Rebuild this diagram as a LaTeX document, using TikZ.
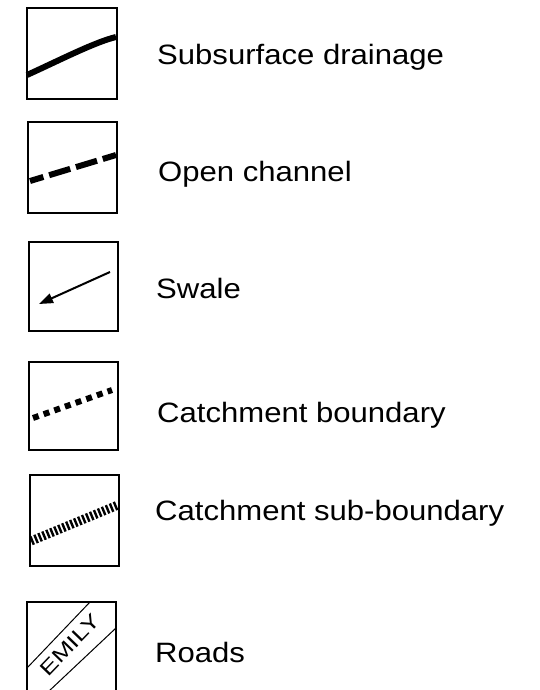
\documentclass[tikz,border=0pt]{standalone}
\usepackage{fontspec}
\setmainfont{Liberation Sans}
\usetikzlibrary{arrows.meta}
\begin{document}
\begin{tikzpicture}[x=1pt,y=-1pt,
  legbox/.style={line width=1.2pt},
  lab/.style={anchor=base west, inner sep=0pt, font=\fontsize{28}{34}\selectfont},
  symline/.style={line width=6pt}]
\useasboundingbox (0,0) rectangle (539,690);
\clip (0,0) rectangle (539,690);
% boxes
\draw[legbox] (27,8) rectangle (117,99);
\draw[legbox] (28,122) rectangle (117,213);
\draw[legbox] (29,242) rectangle (118,331);
\draw[legbox] (29,362) rectangle (118,450);
\draw[legbox] (30,475) rectangle (119,566);
\draw[legbox] (27,700) -- (27,602) -- (116,602) -- (116,700);
% symbols
\draw[symline] (27,75) .. controls (60,60) and (95,42) .. (116,37);
\draw[symline, dash pattern=on 22pt off 6pt, dash phase=8pt] (30,181) -- (116,155);
\draw[line width=2pt, -{Triangle[length=14pt,width=10pt]}] (110,272) -- (39,304);
\draw[line width=6pt, dash pattern=on 6pt off 5.3pt] (33,418) -- (112,390);
\draw[line width=9pt, dash pattern=on 2.4pt off 1.9pt] (31,541) -- (118,505);
\draw[line width=1pt] (27,668) -- (90,602);
\draw[line width=1pt] (48,692) -- (116,628);
\node[rotate=46, inner sep=0pt, font=\fontsize{20}{22}\selectfont] (emily) at (70,645) {\scalebox{1.3}[1]{EMILY}};
% labels
\node[lab] (l1) at (157,65) {\scalebox{1.11}[1]{Subsurface drainage}};
\node[lab] (l2) at (158,181) {\scalebox{1.11}[1]{Open channel}};
\node[lab] (l3) at (156,298) {\scalebox{1.11}[1]{Swale}};
\node[lab] (l4) at (157,422) {\scalebox{1.11}[1]{Catchment boundary}};
\node[lab] (l5) at (155,520) {\scalebox{1.11}[1]{Catchment sub-boundary}};
\node[lab] (l6) at (155,662) {\scalebox{1.11}[1]{Roads}};
\end{tikzpicture}
\end{document}
